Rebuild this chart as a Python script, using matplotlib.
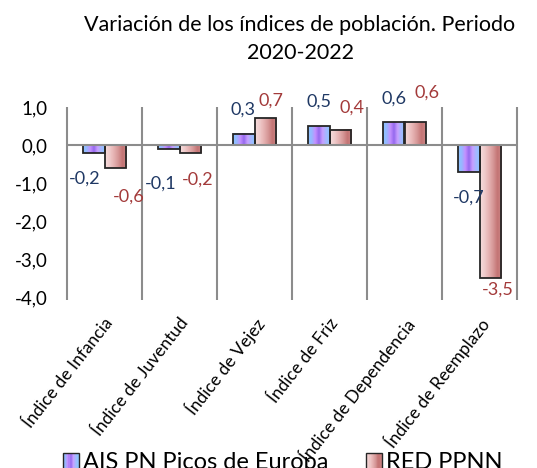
import numpy as np
import matplotlib
matplotlib.use('Agg')
import matplotlib.pyplot as plt
from matplotlib.patches import Rectangle, Patch
from matplotlib.colors import LinearSegmentedColormap
from matplotlib.legend_handler import HandlerBase
from matplotlib.transforms import ScaledTranslation

plt.rcParams['font.family'] = ['Lato', 'DejaVu Sans']

# Data
categories = ['Índice de Infancia', 'Índice de Juventud', 'Índice de Vejez',
              'Índice de Friz', 'Índice de Dependencia', 'Índice de Reemplazo']
ais_values = [-0.2, -0.1, 0.3, 0.5, 0.6, -0.7]
red_values = [-0.6, -0.2, 0.7, 0.4, 0.6, -3.5]
series_names = ['AIS PN Picos de Europa', 'RED PPNN']
y_ticks = [1, 0, -1, -2, -3, -4]
title = 'Variación de los índices de población. Periodo\n2020-2022'

# label nudges in pixels (dx, dy) from the bar end
ais_label_nudge = [(-9, -26), (-8, -35), (-1, 24), (0, 24), (0, 24), (0, -26)]
red_label_nudge = [(13, -29), (7, -27), (6, 18), (12, 22), (12, 30), (7, -12)]

# gradient fills
blue_cmap = LinearSegmentedColormap.from_list(
    'ais', ['#8cc6ff', '#98b6ff', '#c490ff', '#9468ee', '#c8a0ff', '#a4b8ff', '#8cc6ff'])
red_cmap = LinearSegmentedColormap.from_list(
    'red', ['#f6dcdc', '#f0cccc', '#e6b2b2', '#d69898', '#c47474', '#cc8686'])
blue_text = '#1f3864'
red_text = '#a33a3a'
edge = '#262626'
grid_col = '#8c8c8c'


class GradientSwatch(HandlerBase):
    def __init__(self, cmap):
        super().__init__()
        self.cmap = cmap

    def create_artists(self, legend, orig_handle, xdescent, ydescent,
                       width, height, fontsize, trans):
        size = height
        x0 = -xdescent + (width - size) / 2
        y0 = -ydescent
        n = 14
        arts = []
        for k in range(n):
            arts.append(Rectangle((x0 + k * size / n, y0), size / n, size,
                                  facecolor=self.cmap((k + 0.5) / n),
                                  edgecolor='none', transform=trans))
        arts.append(Rectangle((x0, y0), size, size, facecolor='none',
                              edgecolor=edge, lw=1.0, transform=trans))
        return arts


fig = plt.figure(figsize=(5.37, 4.68), dpi=100)
ax = fig.add_axes([67 / 537, 1 - 297 / 468, 450 / 537, 190 / 468])

x = np.arange(len(categories))
w = 0.29
grad = np.linspace(0, 1, 64).reshape(1, -1)

bars_ais = ax.bar(x - w / 2, ais_values, w, facecolor='none',
                  edgecolor=edge, linewidth=1.3, zorder=3)
bars_red = ax.bar(x + w / 2, red_values, w, facecolor='none',
                  edgecolor=edge, linewidth=1.3, zorder=3)

for bars, cmap in [(bars_ais, blue_cmap), (bars_red, red_cmap)]:
    for b in bars:
        y0 = b.get_y()
        y1 = y0 + b.get_height()
        ax.imshow(grad, cmap=cmap, aspect='auto', interpolation='bilinear',
                  extent=[b.get_x(), b.get_x() + b.get_width(), min(y0, y1), max(y0, y1)],
                  zorder=2)

# category boundaries and zero line
ax.vlines(np.arange(len(categories) + 1) - 0.5, -4.08, 1, color=grid_col,
          lw=1.5, zorder=1, clip_on=False)
ax.axhline(0, color=grid_col, lw=1.5, zorder=4)

ax.set_xlim(-0.5, len(categories) - 0.5)
ax.set_ylim(-4, 1)
for s in ax.spines.values():
    s.set_visible(False)

ax.set_yticks(y_ticks)
ax.set_yticklabels([f'{v:.1f}'.replace('.', ',') for v in y_ticks], fontsize=13.5)
ax.tick_params(axis='y', length=0, pad=14)

ax.set_xticks(x)
ax.set_xticklabels(categories, rotation=52, ha='right', va='top',
                   rotation_mode='anchor', fontsize=12.5)
ax.tick_params(axis='x', length=0, pad=13)
for lbl in ax.get_xticklabels():
    lbl.set_transform(lbl.get_transform() + ScaledTranslation(-1 / 100, 0, fig.dpi_scale_trans))

# value labels
for bars, vals, nudges, col in [(bars_ais, ais_values, ais_label_nudge, blue_text),
                                (bars_red, red_values, red_label_nudge, red_text)]:
    for b, v, (dx, dy) in zip(bars, vals, nudges):
        ax.annotate(f'{v:.1f}'.replace('.', ','),
                    (b.get_x() + b.get_width() / 2, v),
                    xytext=(dx, dy), textcoords='offset pixels',
                    ha='center', va='center', color=col, fontsize=13)

fig.text(300 / 537, 1 - 39 / 468, title, ha='center', va='center',
         fontsize=15.5, linespacing=1.45)

h_ais = Patch(label=series_names[0])
h_red = Patch(label=series_names[1])
fig.legend(handles=[h_ais, h_red], labels=series_names,
           handler_map={h_ais: GradientSwatch(blue_cmap), h_red: GradientSwatch(red_cmap)},
           loc='lower left', bbox_to_anchor=(63 / 537, -5 / 468), ncol=2,
           frameon=False, fontsize=17, borderpad=0, borderaxespad=0,
           handlelength=0.65, handleheight=0.65, handletextpad=0.2, columnspacing=1.6)

fig.savefig('out.png', dpi=100)
